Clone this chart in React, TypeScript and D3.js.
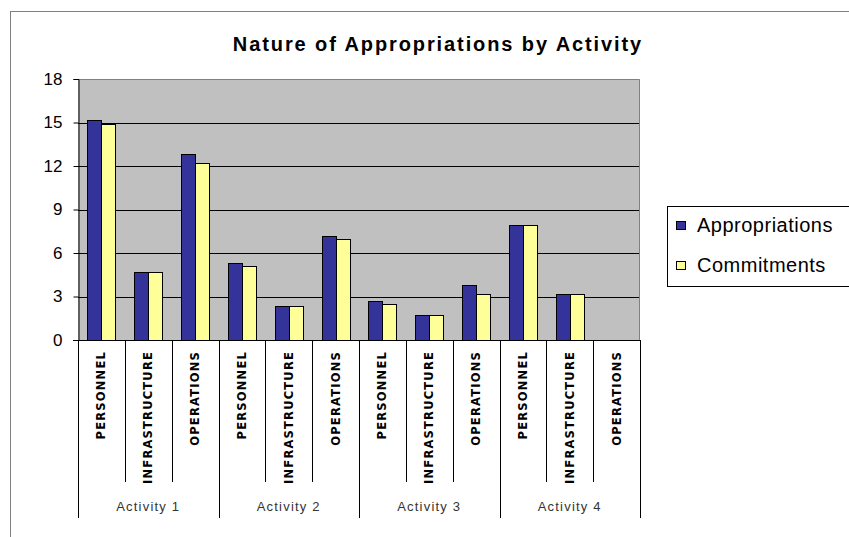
import React, { useEffect, useRef } from "react";
import * as d3 from "d3";

const activities = ["Activity 1", "Activity 2", "Activity 3", "Activity 4"];
const items = ["PERSONNEL", "INFRASTRUCTURE", "OPERATIONS"];
const seriesNames = ["Appropriations", "Commitments"];
const appropriations = [15.2, 4.7, 12.8, 5.3, 2.35, 7.2, 2.7, 1.75, 3.8, 7.9, 3.2, 0];
const commitments = [14.9, 4.7, 12.2, 5.1, 2.35, 7.0, 2.5, 1.75, 3.2, 7.9, 3.2, 0];
const yTicks = [0, 3, 6, 9, 12, 15, 18];

const colors = ["#333399", "#FFFF99"];

export default function App() {
  const ref = useRef<SVGSVGElement>(null);

  useEffect(() => {
    const svg = d3.select(ref.current);
    svg.selectAll("*").remove();

    const left = 78, right = 640, top = 79, bottom = 340;

    // chart frame
    svg.append("rect")
      .attr("x", 10.5).attr("y", 11.5)
      .attr("width", 900).attr("height", 600)
      .attr("fill", "#fff").attr("stroke", "#808080");

    svg.append("text")
      .attr("x", 438).attr("y", 51)
      .attr("text-anchor", "middle")
      .attr("font-family", "Liberation Sans, Arial, sans-serif")
      .attr("font-weight", "bold")
      .attr("font-size", 20)
      .attr("letter-spacing", 1.9)
      .text("Nature of Appropriations by Activity");

    const keys: string[] = [];
    activities.forEach(a => items.forEach(it => keys.push(a + "|" + it)));

    const x = d3.scaleBand().domain(keys).range([left, right]);
    const xs = d3.scaleBand().domain(seriesNames).range([0, x.bandwidth()]).paddingOuter(0.67);
    const y = d3.scaleLinear().domain([0, 18]).range([bottom, top]);

    // plot area
    svg.append("rect")
      .attr("x", left).attr("y", top)
      .attr("width", right - left).attr("height", bottom - top)
      .attr("fill", "#C0C0C0");

    svg.append("g").selectAll("line")
      .data(yTicks.slice(1, -1))
      .join("line")
      .attr("x1", left).attr("x2", right)
      .attr("y1", d => Math.round(y(d)) + 0.5).attr("y2", d => Math.round(y(d)) + 0.5)
      .attr("stroke", "#000");

    svg.append("path")
      .attr("d", `M${left},${top + 0.5}H${right - 0.5}V${bottom}`)
      .attr("fill", "none").attr("stroke", "#808080");

    // bars
    const series = [appropriations, commitments];
    series.forEach((vals, si) => {
      svg.append("g").selectAll("rect")
        .data(vals.map((v, i) => ({ key: keys[i], v })).filter(d => d.v > 0))
        .join("rect")
        .attr("x", d => Math.round(x(d.key)! + xs(seriesNames[si])!) + 0.5)
        .attr("y", d => Math.round(y(d.v)) + 0.5)
        .attr("width", Math.round(xs.bandwidth()))
        .attr("height", d => Math.round(bottom - y(d.v)))
        .attr("fill", colors[si])
        .attr("stroke", "#000")
        .attr("stroke-width", 1);
    });

    // y axis
    const yAxis = svg.append("g")
      .attr("transform", `translate(${left + 0.5},0)`)
      .call(d3.axisLeft(y).tickValues(yTicks).tickSize(5).tickPadding(11).tickFormat(d3.format("d")));
    yAxis.select(".domain").attr("stroke", "#000");
    yAxis.selectAll("text")
      .attr("font-family", "Liberation Sans, Arial, sans-serif")
      .attr("font-size", 17)
      .attr("fill", "#000");

    // x axis line
    svg.append("line")
      .attr("x1", left - 5).attr("x2", right)
      .attr("y1", bottom + 0.5).attr("y2", bottom + 0.5)
      .attr("stroke", "#000");

    // category dividers
    keys.forEach((k, i) => {
      const xx = Math.round(x(k)!) + 0.5;
      const isGroup = i % items.length === 0;
      svg.append("line")
        .attr("x1", xx).attr("x2", xx)
        .attr("y1", bottom).attr("y2", isGroup ? 518 : 482)
        .attr("stroke", "#000");
    });
    svg.append("line")
      .attr("x1", right + 0.5).attr("x2", right + 0.5)
      .attr("y1", bottom).attr("y2", 518)
      .attr("stroke", "#000");

    // category labels (rotated)
    svg.append("g").selectAll("text")
      .data(keys)
      .join("text")
      .attr("transform", d => `translate(${x(d)! + x.bandwidth() / 2 + 4},351) rotate(-90)`)
      .attr("text-anchor", "end")
      .attr("font-family", "DejaVu Sans, sans-serif")
      .attr("font-weight", "bold")
      .attr("font-size", 11.5)
      .attr("letter-spacing", 1.2)
      .text(d => d.split("|")[1]);

    // group labels
    svg.append("g").selectAll("text")
      .data(activities)
      .join("text")
      .attr("x", a => x(a + "|" + items[1])! + x.bandwidth() / 2)
      .attr("y", 511)
      .attr("text-anchor", "middle")
      .attr("font-family", "Liberation Sans, Arial, sans-serif")
      .attr("font-size", 13)
      .attr("letter-spacing", 1.2)
      .attr("fill", "#333")
      .text(d => d);

    // legend
    const lg = svg.append("g");
    lg.append("rect")
      .attr("x", 667.5).attr("y", 206.5)
      .attr("width", 200).attr("height", 80)
      .attr("fill", "#fff").attr("stroke", "#000");
    seriesNames.forEach((n, i) => {
      const cy = 225 + i * 40;
      lg.append("rect")
        .attr("x", 676.5).attr("y", cy - 3.5)
        .attr("width", 9).attr("height", 8)
        .attr("fill", colors[i]).attr("stroke", "#000");
      lg.append("text")
        .attr("x", 697).attr("y", cy + 7)
        .attr("font-family", "Liberation Sans, Arial, sans-serif")
        .attr("font-size", 20)
        .attr("letter-spacing", 0.5)
        .text(n);
    });
  }, []);

  return (
    <div style={{ position: "absolute", left: 0, top: 0 }}>
      <svg ref={ref} width={849} height={537} style={{ display: "block" }}></svg>
    </div>
  );
}
